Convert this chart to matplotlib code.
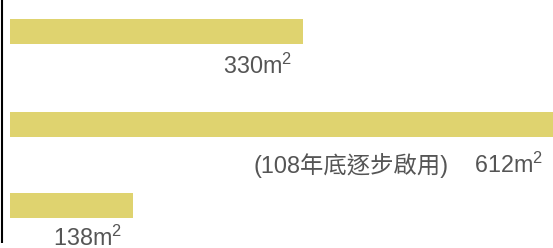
import matplotlib
matplotlib.use("Agg")
import matplotlib.pyplot as plt

plt.rcParams['font.family'] = ['Liberation Sans', 'Noto Sans CJK TC', 'DejaVu Sans']
plt.rcParams['mathtext.fontset'] = 'custom'
plt.rcParams['mathtext.rm'] = 'Liberation Sans'
plt.rcParams['mathtext.it'] = 'Liberation Sans'

# data
areas = [330, 612, 138]
notes = ['', '(108年底逐步啟用)', '']
labels = [f'{a}m$^2$' for a in areas]

# layout (pixel-like y units, top to bottom)
bar_y = [31.5, 124.5, 205.5]
text_y = [74, 173, 246]
bar_color = '#dfd36f'
text_color = '#555555'

fig = plt.figure(figsize=(5.53, 2.48), dpi=100)
ax = fig.add_axes([0, 0, 1, 1])
ax.set_xlim(-11.3, 610.8)
ax.set_ylim(248, 0)
ax.axis('off')

ax.barh(bar_y, areas, height=25, color=bar_color, left=0)

for a, ty, lab, note in zip(areas, text_y, labels, notes):
	ax.annotate(lab, xy=(a, ty), xytext=(-8, 0), textcoords='offset points',
				ha='right', va='baseline', fontsize=16.8, color=text_color,
				annotation_clip=False)
	if note:
		ax.annotate(note, xy=(a, ty), xytext=(-76, 0), textcoords='offset points',
					ha='right', va='baseline', fontsize=16.8, color=text_color,
					annotation_clip=False)

# left axis line
ax.plot([-9.5, -9.5], [0, 243], color='black', linewidth=1.5, solid_capstyle='butt')

fig.savefig('out.png', dpi=100)
